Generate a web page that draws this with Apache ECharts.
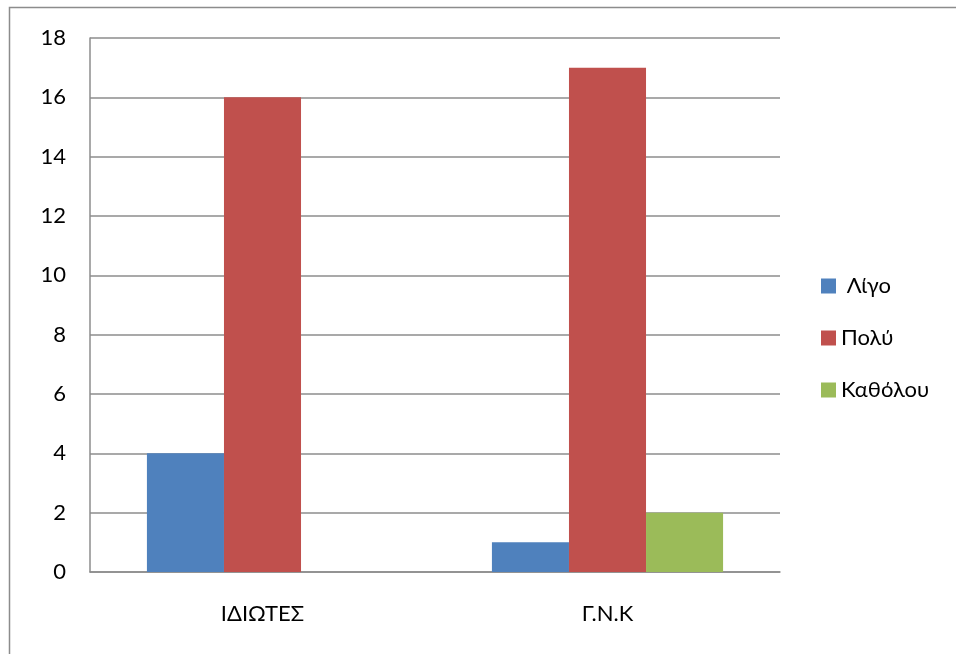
<!DOCTYPE html>
<html>
<head>
<meta charset="utf-8">
<script src="https://cdn.jsdelivr.net/npm/echarts@6/dist/echarts.min.js"></script>
<style>
  html, body { margin: 0; padding: 0; background: #fff; }
  #chart { width: 956px; height: 654px; }
</style>
</head>
<body>
<div id="chart"></div>
<script>
// Categories and values per response
const categories = ['ΙΔΙΩΤΕΣ', 'Γ.Ν.Κ'];
const seriesNames = [' Λίγο', 'Πολύ', 'Καθόλου'];
const ligo = [4, 1];
const poly = [16, 17];
const katholou = [0, 2];
const seriesColors = ['#4F81BD', '#C0504D', '#9BBB59'];

const FONT = 'Lato, "Open Sans", sans-serif';
const chart = echarts.init(document.getElementById('chart'));

const values = [ligo, poly, katholou];

chart.setOption({
  animation: false,
  backgroundColor: '#ffffff',
  textStyle: { fontFamily: FONT },
  graphic: [{
    type: 'rect',
    shape: { x: 9.5, y: 7.5, width: 1000, height: 700 },
    style: { fill: 'none', stroke: '#8c8c8c', lineWidth: 1.5 },
    silent: true
  }],
  grid: { left: 90, right: 176, top: 38, bottom: 82, containLabel: false },
  legend: {
    orient: 'vertical',
    left: 816,
    top: 270,
    itemWidth: 15,
    itemHeight: 15,
    itemGap: 30,
    icon: 'rect',
    textStyle: { fontFamily: FONT, fontSize: 22, color: '#000' },
    data: seriesNames
  },
  xAxis: {
    type: 'category',
    data: categories,
    axisLine: { lineStyle: { color: '#8c8c8c', width: 1.5 } },
    axisTick: { show: false },
    axisLabel: { fontFamily: FONT, fontSize: 22, color: '#000', margin: 31 }
  },
  yAxis: {
    type: 'value',
    min: 0,
    max: 18,
    interval: 2,
    axisLine: { show: true, lineStyle: { color: '#8c8c8c', width: 1.5 } },
    axisTick: { show: false },
    splitLine: { lineStyle: { color: '#8c8c8c', width: 1.5 } },
    axisLabel: { fontFamily: FONT, fontSize: 22, color: '#000', margin: 24 }
  },
  series: seriesNames.map((name, i) => ({
    name: name,
    type: 'bar',
    data: values[i],
    barGap: '0%',
    barCategoryGap: '33%',
    itemStyle: { color: seriesColors[i] }
  }))
});
</script>
</body>
</html>
